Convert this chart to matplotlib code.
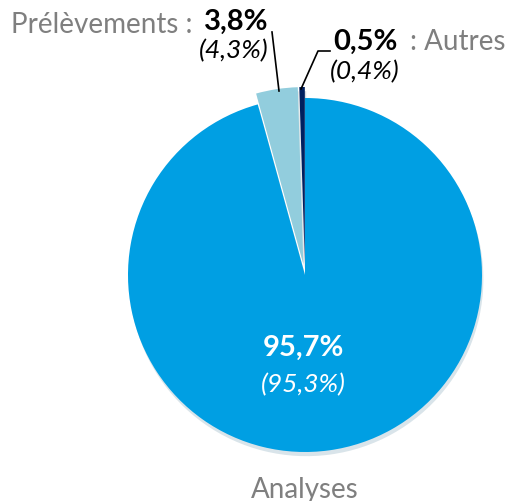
import matplotlib
matplotlib.use("Agg")
import matplotlib.pyplot as plt

labels = ["Autres", "Prélèvements", "Analyses"]
values = [0.5, 3.8, 95.7]
prev_values = ["(0,4%)", "(4,3%)", "(95,3%)"]
value_labels = ["0,5%", "3,8%", "95,7%"]
colors = ["#002060", "#92CDDD", "#009FE3"]
explode = [11, 11, 0]

W, H = 508, 502
fig = plt.figure(figsize=(W / 100, H / 100), dpi=100)
ax = fig.add_axes([0, 0, 1, 1])

plt.rcParams['font.family'] = ['Lato', 'DejaVu Sans']

cx, cy, r = 305, H - 276, 177
wedges, _ = ax.pie(values, colors=colors, startangle=90, counterclock=True,
                   center=(cx, cy), radius=r, explode=explode,
                   frame=True, wedgeprops=dict(linewidth=0),
                   shadow=dict(ox=1, oy=-3, shade=0.5, alpha=0.15))
ax.set_xlim(0, W)
ax.set_ylim(0, H)
ax.set_aspect("equal")
ax.axis("off")

def Y(y):
    return H - y

grey = "#7F7F7F"
fs = 20
fsb = 21
fsi = 19
# Prélèvements
ax.text(192, Y(25), "Prélèvements :", color=grey, fontsize=fs, ha="right", va="center")
ax.text(268, Y(22), value_labels[1], color="black", fontsize=fsb, fontweight="bold", ha="right", va="center")
ax.text(268, Y(51), prev_values[1], color="black", fontsize=fsi, fontstyle="italic", ha="right", va="center")
ax.plot([272, 279], [Y(33), Y(92)], color="black", lw=1.2)

# Autres
ax.text(333, Y(42), value_labels[0], color="black", fontsize=fsb, fontweight="bold", ha="left", va="center")
ax.text(330, Y(72), prev_values[0], color="black", fontsize=fsi, fontstyle="italic", ha="left", va="center")
ax.text(410, Y(42), ": Autres", color=grey, fontsize=fs, ha="left", va="center")
ax.plot([301, 318, 330], [Y(90), Y(52), Y(52)], color="black", lw=1.2)

# Analyses
ax.text(303, Y(348), value_labels[2], color="white", fontsize=fsb, fontweight="bold", ha="center", va="center")
ax.text(303, Y(385), prev_values[2], color="white", fontsize=fsi, fontstyle="italic", ha="center", va="center")
ax.text(305, Y(490), labels[2], color=grey, fontsize=fs, ha="center", va="center")

fig.savefig("out.png", dpi=100)
